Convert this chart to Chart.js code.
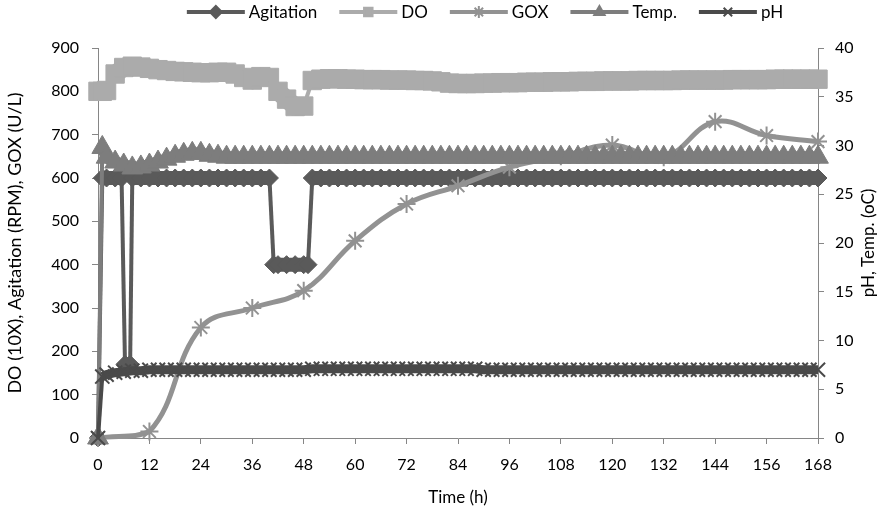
<!DOCTYPE html>
<html>
<head>
<meta charset="utf-8">
<script src="https://cdn.jsdelivr.net/npm/chart.js"></script>
<style>
  html, body { margin: 0; padding: 0; background: #fff; }
</style>
</head>
<body>
<canvas id="myChart" width="885" height="511"></canvas>
<script>
// time grid shared by DO, Temp and pH (hours)
let hours = [0, 1, 2, 4, 6, 8, 10, 12, 14, 16, 18, 20, 22, 24, 26, 28, 30, 32, 34, 36,
             38, 40, 42, 44, 46, 48, 50, 52, 54, 56, 58, 60, 62, 64, 66, 68, 70, 72, 74, 76,
             78, 80, 82, 84, 86, 88, 90, 92, 94, 96, 98, 100, 102, 104, 106, 108, 110, 112, 114, 116,
             118, 120, 122, 124, 126, 128, 130, 132, 134, 136, 138, 140, 142, 144, 146, 148, 150, 152, 154, 156,
             158, 160, 162, 164, 166, 168];

// DO (10X), left axis
let doValues = [800, 800, 802, 840, 855, 858, 856, 853, 850, 848, 846, 845, 844, 843, 843, 844, 844, 840, 832, 826,
                834, 832, 800, 782, 765, 766, 825, 828, 829, 829, 828, 828, 827, 827, 827, 826, 826, 826, 825, 825,
                824, 822, 819, 818, 818, 818, 819, 819, 820, 820, 820, 821, 821, 821, 822, 822, 822, 823, 823, 823,
                824, 824, 824, 824, 825, 825, 825, 825, 825, 826, 826, 826, 826, 826, 826, 827, 827, 827, 827, 827,
                828, 828, 828, 828, 828, 828];

// Temp. (oC), right axis
let tempValues = [0, 29.8, 28.8, 28.3, 28.0, 27.7, 27.8, 28.0, 28.3, 28.6, 28.9, 29.1, 29.2, 29.2, 29.0, 28.9, 28.8, 28.8, 28.8, 28.8,
                  28.8, 28.8, 28.8, 28.8, 28.8, 28.8, 28.8, 28.8, 28.8, 28.8, 28.8, 28.8, 28.8, 28.8, 28.8, 28.8, 28.8, 28.8, 28.8, 28.8,
                  28.8, 28.8, 28.8, 28.8, 28.8, 28.8, 28.8, 28.8, 28.8, 28.8, 28.8, 28.8, 28.8, 28.8, 28.8, 28.8, 28.8, 28.8, 28.8, 28.8,
                  28.8, 28.8, 28.8, 28.8, 28.8, 28.8, 28.8, 28.8, 28.8, 28.8, 28.8, 28.8, 28.8, 28.8, 28.8, 28.8, 28.8, 28.8, 28.8, 28.8,
                  28.8, 28.8, 28.8, 28.8, 28.8, 28.8];

// pH, right axis
let phValues = [0, 6.3, 6.5, 6.7, 6.8, 6.9, 6.9, 7.0, 7.0, 7.0, 7.0, 7.0, 7.0, 7.0, 7.0, 7.0, 7.0, 7.0, 7.0, 7.0,
                7.0, 7.0, 7.0, 7.0, 7.0, 7.0, 7.1, 7.1, 7.1, 7.1, 7.1, 7.1, 7.1, 7.1, 7.1, 7.1, 7.1, 7.1, 7.1, 7.1,
                7.1, 7.1, 7.1, 7.1, 7.1, 7.1, 7.0, 7.0, 7.0, 7.0, 7.0, 7.0, 7.0, 7.0, 7.0, 7.0, 7.0, 7.0, 7.0, 7.0,
                7.0, 7.0, 7.0, 7.0, 7.0, 7.0, 7.0, 7.0, 7.0, 7.0, 7.0, 7.0, 7.0, 7.0, 7.0, 7.0, 7.0, 7.0, 7.0, 7.0,
                7.0, 7.0, 7.0, 7.0, 7.0, 7.0];

// Agitation (RPM), left axis, own time grid
let agitationHours = [0, 1, 2, 4, 5.5, 6.3, 7.5, 8, 10, 12, 14, 16, 18, 20, 22, 24, 26, 28, 30, 32,
                      34, 36, 38, 40, 41, 42, 44, 46, 48, 49, 50, 52, 54, 56, 58, 60, 62, 64, 66, 68,
                      70, 72, 74, 76, 78, 80, 82, 84, 86, 88, 90, 92, 94, 96, 98, 100, 102, 104, 106, 108,
                      110, 112, 114, 116, 118, 120, 122, 124, 126, 128, 130, 132, 134, 136, 138, 140, 142, 144, 146, 148,
                      150, 152, 154, 156, 158, 160, 162, 164, 166, 168];
let agitationRpm = [0, 600, 600, 600, 600, 170, 170, 600, 600, 600, 600, 600, 600, 600, 600, 600, 600, 600, 600, 600,
                    600, 600, 600, 600, 400, 400, 400, 400, 400, 400, 600, 600, 600, 600, 600, 600, 600, 600, 600, 600,
                    600, 600, 600, 600, 600, 600, 600, 600, 600, 600, 600, 600, 600, 600, 600, 600, 600, 600, 600, 600,
                    600, 600, 600, 600, 600, 600, 600, 600, 600, 600, 600, 600, 600, 600, 600, 600, 600, 600, 600, 600,
                    600, 600, 600, 600, 600, 600, 600, 600, 600, 600];

// GOX (U/L), left axis, sampled every 12 h
let goxHours = [0, 12, 24, 36, 48, 60, 72, 84, 96, 108, 120, 132, 144, 156, 168];
let goxValues = [0, 15, 255, 300, 340, 455, 540, 582, 625, 650, 676, 648, 730, 698, 684];

function toPoints(xs, ys) {
    return xs.map((x, i) => ({ x: x, y: ys[i] }));
}

// thick stroke along the flat runs so the marker bands look solid
function bandWidth(wide) {
    return ctx => Math.abs(ctx.p1.y - ctx.p0.y) > 12 ? 4 : wide;
}

const FONT = 'Lato, "Open Sans", sans-serif';

// excel-like legend: line sample with marker in the middle
const seriesLegend = {
    id: 'seriesLegend',
    afterDraw(chart) {
        const ctx = chart.ctx;
        const sets = chart.data.datasets;
        const lineLen = 58, gap = 4, itemGap = 22, y = 12;
        ctx.save();
        ctx.font = '17px ' + FONT;
        let total = itemGap * (sets.length - 1);
        sets.forEach(ds => total += lineLen + gap + ctx.measureText(ds.label).width);
        let x = 485 - total / 2;
        sets.forEach(ds => {
            ctx.strokeStyle = ds.borderColor;
            ctx.lineWidth = 4;
            ctx.beginPath();
            ctx.moveTo(x, y);
            ctx.lineTo(x + lineLen, y);
            ctx.stroke();
            ctx.fillStyle = ds.borderColor;
            ctx.lineWidth = 2;
            Chart.helpers.drawPoint(ctx, { pointStyle: ds.pointStyle, rotation: 0, radius: 6, borderWidth: 2 }, x + lineLen / 2, y);
            ctx.fillStyle = '#000';
            ctx.textAlign = 'left';
            ctx.textBaseline = 'middle';
            ctx.fillText(ds.label, x + lineLen + gap, y + 1);
            x += lineLen + gap + ctx.measureText(ds.label).width + itemGap;
        });
        // right axis title reads bottom to top like the left one
        const area = chart.chartArea;
        ctx.translate(869, (area.top + area.bottom) / 2);
        ctx.rotate(-Math.PI / 2);
        ctx.font = '17px ' + FONT;
        ctx.textAlign = 'center';
        ctx.fillText('pH, Temp. (oC)', 0, 0);
        ctx.restore();
    }
};

new Chart(document.getElementById('myChart'), {
    type: 'line',
    data: {
        datasets: [{
            label: 'Agitation',
            data: toPoints(agitationHours, agitationRpm),
            yAxisID: 'y',
            borderColor: '#5a5a5a',
            backgroundColor: '#5a5a5a',
            pointBackgroundColor: '#5a5a5a',
            pointBorderColor: '#5a5a5a',
            pointStyle: 'rectRot',
            pointRadius: 9,
            pointBorderWidth: 1,
            borderWidth: 4,
            segment: { borderWidth: bandWidth(14) },
            tension: 0,
            order: 5
        }, {
            label: 'DO',
            data: toPoints(hours, doValues),
            yAxisID: 'y',
            borderColor: '#ababab',
            backgroundColor: '#ababab',
            pointBackgroundColor: '#ababab',
            pointBorderColor: '#ababab',
            pointStyle: 'rect',
            pointRadius: 13,
            pointBorderWidth: 1,
            borderWidth: 4,
            segment: { borderWidth: bandWidth(18) },
            tension: 0,
            order: 4
        }, {
            label: 'GOX',
            data: toPoints(goxHours, goxValues),
            yAxisID: 'y',
            borderColor: '#929292',
            backgroundColor: '#929292',
            pointBackgroundColor: '#929292',
            pointBorderColor: '#929292',
            pointStyle: 'star',
            pointRadius: 9,
            pointBorderWidth: 2,
            borderWidth: 5,
            tension: 0.4,
            order: 3
        }, {
            label: 'Temp.',
            data: toPoints(hours, tempValues),
            yAxisID: 'y1',
            borderColor: '#7d7d7d',
            backgroundColor: '#7d7d7d',
            pointBackgroundColor: '#7d7d7d',
            pointBorderColor: '#7d7d7d',
            pointStyle: 'triangle',
            pointRadius: 12,
            pointBorderWidth: 1,
            borderWidth: 4,
            segment: { borderWidth: bandWidth(12) },
            tension: 0,
            order: 2
        }, {
            label: 'pH',
            data: toPoints(hours, phValues),
            yAxisID: 'y1',
            borderColor: '#4a4a4a',
            backgroundColor: '#4a4a4a',
            pointBackgroundColor: '#4a4a4a',
            pointBorderColor: '#4a4a4a',
            pointStyle: 'crossRot',
            pointRadius: 10,
            pointBorderWidth: 2,
            borderWidth: 4,
            segment: { borderWidth: bandWidth(9) },
            tension: 0,
            order: 1
        }]
    },
    options: {
        responsive: false,
        animation: false,
        clip: false,
        layout: { padding: { top: 48, left: 0, right: 0, bottom: 0 } },
        plugins: {
            legend: { display: false },
            tooltip: { enabled: false }
        },
        scales: {
            x: {
                type: 'linear',
                min: 0,
                max: 168,
                afterFit: s => { s.height = 73; },
                ticks: { stepSize: 12, color: '#000', padding: 11, font: { family: FONT, size: 16 } },
                grid: { drawOnChartArea: false, drawTicks: true, tickLength: 6, color: '#868686' },
                border: { color: '#868686', width: 1 },
                title: { display: true, text: 'Time (h)', color: '#000', padding: { top: 0, bottom: 3 }, font: { family: FONT, size: 17 } }
            },
            y: {
                position: 'left',
                min: 0,
                max: 900,
                afterFit: s => { s.width = 98; },
                ticks: { stepSize: 100, color: '#000', padding: 13, font: { family: FONT, size: 16 } },
                grid: { drawOnChartArea: false, drawTicks: true, tickLength: 6, color: '#868686' },
                border: { color: '#868686', width: 1 },
                title: { display: true, text: 'DO (10X), Agitation (RPM), GOX (U/L)', color: '#000', padding: { top: 4, bottom: 0 }, font: { family: FONT, size: 18 } }
            },
            y1: {
                position: 'right',
                min: 0,
                max: 40,
                afterFit: s => { s.width = 67; },
                ticks: { stepSize: 5, color: '#000', padding: 11, font: { family: FONT, size: 16 } },
                grid: { drawOnChartArea: false, drawTicks: true, tickLength: 6, color: '#868686' },
                border: { color: '#868686', width: 1 }
            }
        }
    },
    plugins: [seriesLegend]
});
</script>
</body>
</html>
